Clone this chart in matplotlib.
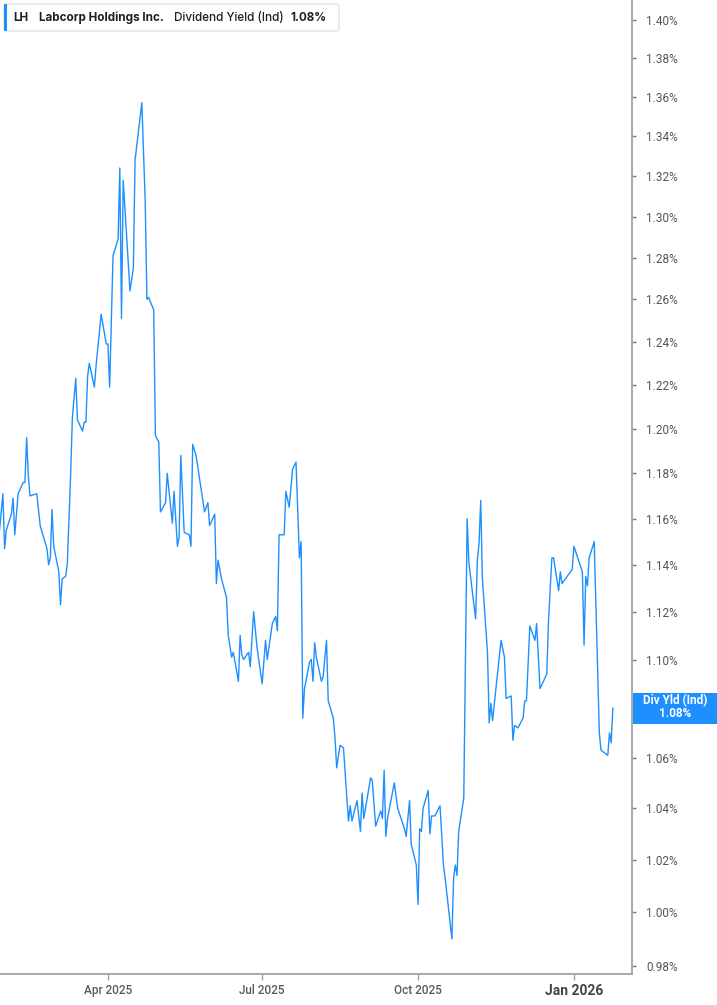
import matplotlib
matplotlib.use('Agg')
import matplotlib.pyplot as plt
import matplotlib.dates as mdates
from matplotlib.patches import FancyBboxPatch, Rectangle
from matplotlib.ticker import FixedLocator, NullLocator, FuncFormatter
from matplotlib.transforms import IdentityTransform
import pandas as pd

# LH dividend yield (indicated), % -- turning points
dates = [
    '2025-01-27', '2025-01-29', '2025-01-30', '2025-01-31', '2025-02-03', '2025-02-04', '2025-02-05', '2025-02-07', '2025-02-10', '2025-02-11',
    '2025-02-12', '2025-02-13', '2025-02-14', '2025-02-18', '2025-02-20', '2025-02-24', '2025-02-25', '2025-02-26', '2025-02-27', '2025-02-28',
    '2025-03-03', '2025-03-04', '2025-03-05', '2025-03-07', '2025-03-08', '2025-03-10', '2025-03-11', '2025-03-13', '2025-03-14', '2025-03-17',
    '2025-03-18', '2025-03-19', '2025-03-20', '2025-03-21', '2025-03-24', '2025-03-25', '2025-03-28', '2025-03-31', '2025-04-01', '2025-04-02',
    '2025-04-04', '2025-04-07', '2025-04-08', '2025-04-09', '2025-04-10', '2025-04-14', '2025-04-16', '2025-04-17', '2025-04-21', '2025-04-23',
    '2025-04-24', '2025-04-25', '2025-04-28', '2025-04-29', '2025-05-01', '2025-05-02', '2025-05-05', '2025-05-06', '2025-05-09', '2025-05-10',
    '2025-05-12', '2025-05-13', '2025-05-14', '2025-05-16', '2025-05-19', '2025-05-20', '2025-05-21', '2025-05-23', '2025-05-28', '2025-05-30',
    '2025-05-31', '2025-06-03', '2025-06-04', '2025-06-05', '2025-06-07', '2025-06-10', '2025-06-11', '2025-06-13', '2025-06-14', '2025-06-17',
    '2025-06-18', '2025-06-19', '2025-06-20', '2025-06-23', '2025-06-24', '2025-06-26', '2025-06-28', '2025-07-01', '2025-07-03', '2025-07-04',
    '2025-07-07', '2025-07-09', '2025-07-10', '2025-07-11', '2025-07-14', '2025-07-15', '2025-07-17', '2025-07-19', '2025-07-21', '2025-07-23',
    '2025-07-24', '2025-07-25', '2025-07-26', '2025-07-29', '2025-07-30', '2025-07-31', '2025-08-01', '2025-08-02', '2025-08-05', '2025-08-06',
    '2025-08-08', '2025-08-09', '2025-08-12', '2025-08-13', '2025-08-14', '2025-08-16', '2025-08-18', '2025-08-20', '2025-08-21', '2025-08-22',
    '2025-08-23', '2025-08-26', '2025-08-28', '2025-08-29', '2025-08-30', '2025-09-03', '2025-09-04', '2025-09-06', '2025-09-09', '2025-09-10',
    '2025-09-11', '2025-09-12', '2025-09-13', '2025-09-17', '2025-09-19', '2025-09-20', '2025-09-23', '2025-09-24', '2025-09-26', '2025-09-27',
    '2025-09-30', '2025-10-01', '2025-10-02', '2025-10-03', '2025-10-04', '2025-10-07', '2025-10-08', '2025-10-09', '2025-10-11', '2025-10-14',
    '2025-10-16', '2025-10-17', '2025-10-21', '2025-10-22', '2025-10-23', '2025-10-24', '2025-10-25', '2025-10-28', '2025-10-30', '2025-10-31',
    '2025-11-04', '2025-11-05', '2025-11-06', '2025-11-07', '2025-11-08', '2025-11-11', '2025-11-12', '2025-11-13', '2025-11-14', '2025-11-19',
    '2025-11-21', '2025-11-22', '2025-11-25', '2025-11-26', '2025-11-27', '2025-11-29', '2025-12-02', '2025-12-03', '2025-12-04', '2025-12-06',
    '2025-12-09', '2025-12-10', '2025-12-12', '2025-12-16', '2025-12-17', '2025-12-19', '2025-12-20', '2025-12-23', '2025-12-24', '2025-12-25',
    '2025-12-31', '2026-01-01', '2026-01-06', '2026-01-07', '2026-01-08', '2026-01-09', '2026-01-10', '2026-01-13', '2026-01-16', '2026-01-17',
    '2026-01-21', '2026-01-22', '2026-01-23', '2026-01-24',
]
div_yield = [
    1.155, 1.171, 1.147, 1.155, 1.162, 1.169, 1.153, 1.171, 1.176, 1.176,
    1.196, 1.179, 1.170, 1.171, 1.157, 1.147, 1.140, 1.143, 1.164, 1.148,
    1.137, 1.123, 1.134, 1.135, 1.140, 1.180, 1.205, 1.223, 1.204, 1.199,
    1.203, 1.203, 1.224, 1.230, 1.219, 1.229, 1.253, 1.239, 1.239, 1.219,
    1.281, 1.289, 1.324, 1.251, 1.318, 1.264, 1.275, 1.328, 1.357, 1.307,
    1.260, 1.261, 1.255, 1.197, 1.194, 1.163, 1.167, 1.180, 1.158, 1.172,
    1.148, 1.152, 1.188, 1.154, 1.153, 1.148, 1.193, 1.188, 1.163, 1.167,
    1.157, 1.162, 1.132, 1.142, 1.134, 1.126, 1.110, 1.101, 1.103, 1.091,
    1.110, 1.102, 1.100, 1.103, 1.097, 1.120, 1.105, 1.090, 1.108, 1.100,
    1.115, 1.118, 1.112, 1.153, 1.153, 1.172, 1.165, 1.182, 1.185, 1.143,
    1.150, 1.076, 1.088, 1.099, 1.100, 1.091, 1.107, 1.101, 1.091, 1.093,
    1.108, 1.083, 1.076, 1.068, 1.056, 1.065, 1.064, 1.044, 1.035, 1.041,
    1.035, 1.043, 1.031, 1.046, 1.036, 1.052, 1.051, 1.033, 1.039, 1.036,
    1.055, 1.029, 1.036, 1.050, 1.040, 1.038, 1.032, 1.029, 1.043, 1.026,
    1.018, 1.003, 1.032, 1.031, 1.040, 1.047, 1.030, 1.037, 1.037, 1.041,
    1.018, 1.013, 0.990, 1.013, 1.018, 1.014, 1.031, 1.044, 1.160, 1.141,
    1.117, 1.142, 1.149, 1.168, 1.134, 1.103, 1.074, 1.082, 1.075, 1.108,
    1.101, 1.084, 1.085, 1.067, 1.073, 1.072, 1.076, 1.083, 1.083, 1.114,
    1.108, 1.115, 1.088, 1.094, 1.116, 1.143, 1.143, 1.129, 1.137, 1.132,
    1.138, 1.148, 1.137, 1.106, 1.135, 1.131, 1.143, 1.150, 1.070, 1.063,
    1.061, 1.070, 1.066, 1.080,
]

y_ticks = [0.98, 1.00, 1.02, 1.04, 1.06, 1.08, 1.10, 1.12, 1.14, 1.16, 1.18,
           1.20, 1.22, 1.24, 1.26, 1.28, 1.30, 1.32, 1.34, 1.36, 1.38, 1.40]
month_ticks = ['2025-04-01', '2025-07-01', '2025-10-01', '2026-01-01']
month_labels = ['Apr 2025', 'Jul 2025', 'Oct 2025', 'Jan 2026']

ticker = 'LH'
company = 'Labcorp Holdings Inc.'
metric = 'Dividend Yield (Ind)'
metric_short = 'Div Yld (Ind)'

BLUE = '#1e8fff'
W, H = 717, 1005

fig = plt.figure(figsize=(W / 100, H / 100), dpi=100)
ax = fig.add_axes([0, 31 / H, 632 / W, 974 / H])

x = pd.to_datetime(dates)
ax.plot(x, div_yield, color=BLUE, lw=1.0)

ax.set_yscale('log')
ax.set_ylim(0.9770, 1.4106)
ax.set_xlim(pd.Timestamp('2025-01-27 07:00'), pd.Timestamp('2026-02-04 07:00'))

ax.yaxis.set_major_locator(FixedLocator(y_ticks))
ax.yaxis.set_minor_locator(NullLocator())
ax.yaxis.set_major_formatter(FuncFormatter(lambda v, p: f'{v:.2f}%'))
ax.yaxis.tick_right()

ax.set_xticks(pd.to_datetime(month_ticks))
ax.set_xticklabels(month_labels)
ax.xaxis.set_minor_locator(NullLocator())

for s in ['left', 'top']:
    ax.spines[s].set_visible(False)
for s in ['right', 'bottom']:
    ax.spines[s].set_color('#a8a8a8')
    ax.spines[s].set_linewidth(1.4)

ax.tick_params(axis='y', which='major', right=True, left=False, length=3,
               width=1, color='#777777', pad=7, labelsize=8.5,
               labelcolor='#555555')
ax.tick_params(axis='x', which='major', length=4, width=1, color='#a0a0a0',
               pad=3, labelsize=8.5, labelcolor='#5a5a5a')
for lab in ax.get_yticklabels():
    lab.set_fontfamily('Roboto')
for lab in ax.get_xticklabels():
    lab.set_fontfamily('Roboto')
    lab.set_fontweight('medium')
jan = ax.get_xticklabels()[-1]
jan.set_fontweight('bold')
jan.set_fontsize(10)
jan.set_color('#444444')

# header box at top-left
pix = IdentityTransform()
fig.add_artist(FancyBboxPatch((4, H - 31), 335, 27,
                              boxstyle='round,pad=0,rounding_size=3',
                              facecolor='white', edgecolor='#e3e3e3',
                              lw=1, transform=pix))
fig.add_artist(Rectangle((4, H - 31), 3, 27, facecolor=BLUE,
                         edgecolor='none', transform=pix))
head_y = H - 17.5
head_kw = dict(transform=pix, fontsize=8.4, family='Inter',
               color='#1f1f1f', va='center')
fig.text(13, head_y, ticker, fontweight='bold', **head_kw)
fig.text(39, head_y, company, fontweight='bold', **head_kw)
fig.text(174, head_y, metric, fontweight='medium', **head_kw)
fig.text(290, head_y, f'{div_yield[-1]:.2f}%', fontweight='bold', **head_kw)

# last value tag on the right axis
fig.canvas.draw()
_, last_y = ax.transData.transform((mdates.date2num(x[-1]), div_yield[-1]))
fig.add_artist(Rectangle((633, last_y - 15.5), 84, 31, facecolor=BLUE,
                         edgecolor='none', transform=pix))
fig.text(675, last_y + 1, f'{metric_short}\n{div_yield[-1]:.2f}%',
         transform=pix, ha='center', va='center', fontsize=8.5,
         fontweight='bold', family='Roboto', color='white', linespacing=1.0)

fig.savefig('out.png', dpi=100)
